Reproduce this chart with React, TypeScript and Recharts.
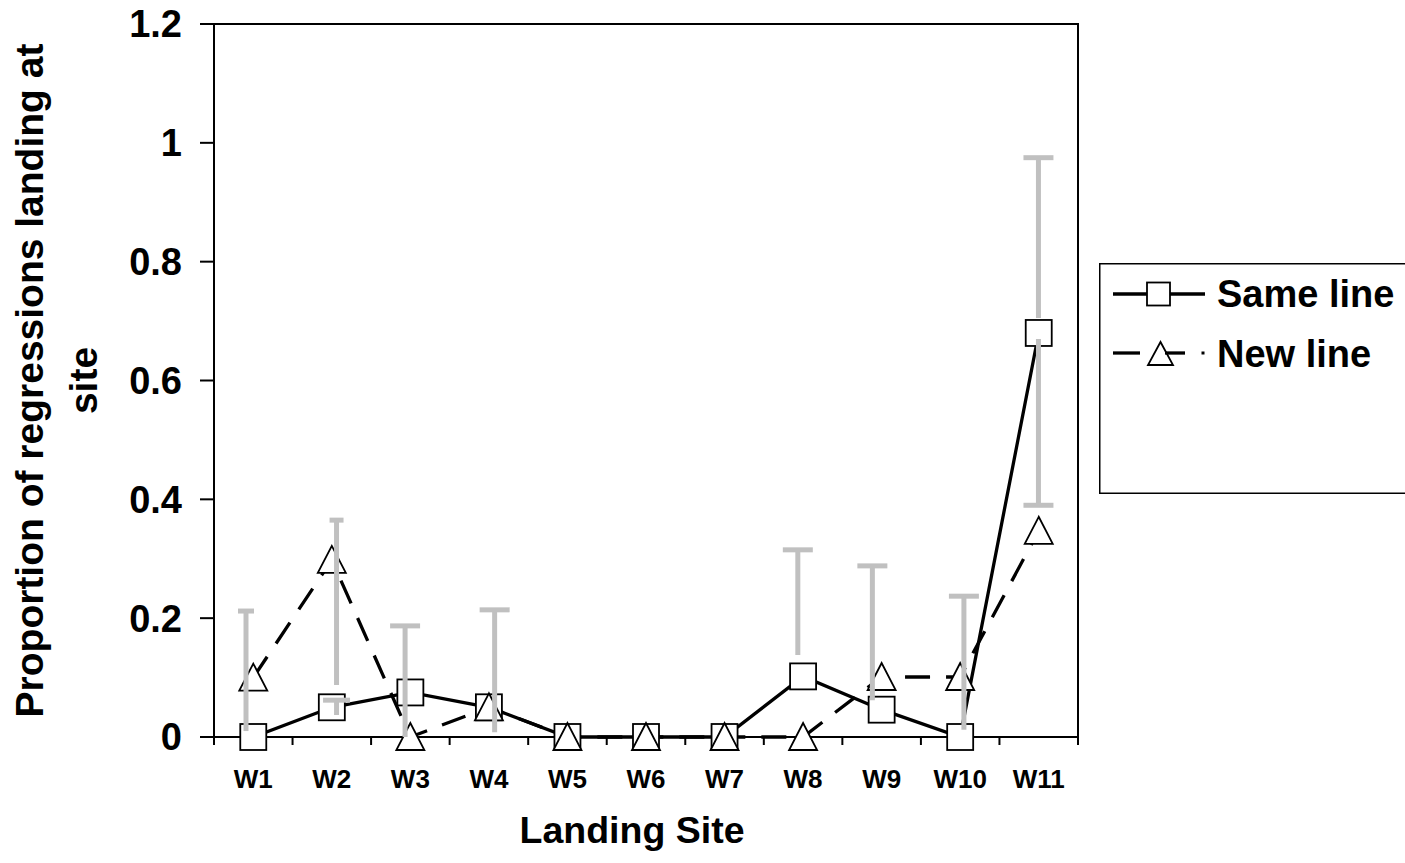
import React from 'react';
import { ComposedChart, Line, Bar, XAxis, YAxis, Legend, ReferenceLine } from 'recharts';

// ---------- data ----------
const sites = ['W1', 'W2', 'W3', 'W4', 'W5', 'W6', 'W7', 'W8', 'W9', 'W10', 'W11'];
const sameLine = [0, 0.05, 0.075, 0.05, 0, 0, 0, 0.102, 0.046, 0, 0.68];
const newLine = [0.1, 0.298, 0, 0.05, 0, 0, 0, 0, 0.101, 0.101, 0.347];
// gray error bars (main segment)
const errLow = [0.01, 0.0875, 0, 0.008, null, null, null, 0.138, 0.062, 0.012, 0.705];
const errHigh = [0.212, 0.365, 0.187, 0.214, null, null, null, 0.315, 0.288, 0.237, 0.975];
// gray error bars (secondary segment)
const err2Low = [null, 0.037, null, null, null, null, null, null, null, null, 0.39];
const err2High = [null, 0.062, null, null, null, null, null, null, null, null, 0.67];
const yTicks = [0, 0.2, 0.4, 0.6, 0.8, 1, 1.2];

// ---------- styles ----------
const errOffsetPx = [-7, 5, -5, 6, 0, 0, 0, -5, -9, 4, 0];
const errCapWidth = [16, 14, 30, 30, 30, 30, 30, 30, 30, 30, 30];
const err2CapWidth = [30, 27, 30, 30, 30, 30, 30, 30, 30, 30, 30];
const err2CapSide = ['top', 'top', 'top', 'top', 'top', 'top', 'top', 'top', 'top', 'top', 'bottom'];
const GRAY = '#C0C0C0';
const FONT = '"Liberation Sans", Arial, Helvetica, sans-serif';
const W = 1405;
const H = 863;
const MARGIN = { top: 24, right: 327, bottom: 0, left: 0 };
const PLOT_H = 713;

const rows = sites.map((s, i) => ({
  site: s,
  same: sameLine[i],
  newL: newLine[i],
  err: errLow[i] == null ? null : [errLow[i], errHigh[i]],
  err2: err2Low[i] == null ? null : [err2Low[i], err2High[i]],
}));

const makeErrShape = (capWidths: number[], capSide: (i: number) => string) => (props: any) => {
  const { x, y, width, height, payload } = props;
  if (x == null || y == null || !payload) return <g />;
  const i = sites.indexOf(payload.site);
  const cx = x + width / 2 + (errOffsetPx[i] || 0);
  const top = Math.min(y, y + height);
  const bottom = Math.max(y, y + height);
  const cw = capWidths[i];
  const side = capSide(i);
  const capY = side === 'top' ? top : bottom;
  return (
    <g>
      <line x1={cx} x2={cx} y1={top} y2={bottom} stroke={GRAY} strokeWidth={5} />
      <line x1={cx - cw / 2} x2={cx + cw / 2} y1={capY} y2={capY} stroke={GRAY} strokeWidth={5} />
    </g>
  );
};

const EmptyShape = () => <g />;

const SquareDot = (props: any) => {
  const { cx, cy, index } = props;
  if (cx == null || cy == null) return <g key={`sq-${index}`} />;
  return (
    <rect
      key={`sq-${index}`}
      x={cx - 13}
      y={cy - 13}
      width={26}
      height={26}
      fill="#fff"
      stroke="#000"
      strokeWidth={1.8}
      strokeDasharray="none"
    />
  );
};

const TriangleDot = (props: any) => {
  const { cx, cy, index } = props;
  if (cx == null || cy == null) return <g key={`tr-${index}`} />;
  return (
    <polygon
      key={`tr-${index}`}
      points={`${cx},${cy - 14} ${cx - 14},${cy + 13} ${cx + 14},${cy + 13}`}
      fill="#fff"
      stroke="#000"
      strokeWidth={1.8}
      strokeDasharray="none"
    />
  );
};

const XTick = (props: any) => {
  const { x, y, payload, index } = props;
  const half = payload && payload.offset ? payload.offset : 864 / 11 / 2;
  const last = index === sites.length - 1;
  return (
    <g>
      <line x1={x - half} x2={x - half} y1={y} y2={y + 8} stroke="#000" strokeWidth={2} />
      {last ? (
        <line x1={x + half} x2={x + half} y1={y - PLOT_H - 1} y2={y + 8} stroke="#000" strokeWidth={2} />
      ) : null}
      <text x={x} y={y + 51} textAnchor="middle" fontFamily={FONT} fontWeight="bold" fontSize={26} fill="#000">
        {payload.value}
      </text>
    </g>
  );
};

const YTitle = (props: any) => {
  const vb = props.viewBox || { x: 0, y: 24, width: 214, height: 713 };
  const cy = vb.y + vb.height / 2;
  const x1 = vb.x + 43;
  const x2 = vb.x + 97;
  return (
    <g>
      <text x={x1} y={cy} transform={`rotate(-90, ${x1}, ${cy})`} textAnchor="middle" fontFamily={FONT} fontWeight="bold" fontSize={39} fill="#000">
        Proportion of regressions landing at
      </text>
      <text x={x2} y={cy} transform={`rotate(-90, ${x2}, ${cy})`} textAnchor="middle" fontFamily={FONT} fontWeight="bold" fontSize={39} fill="#000">
        site
      </text>
    </g>
  );
};

const XTitle = (props: any) => {
  const vb = props.viewBox || { x: 214, y: 737, width: 864, height: 126 };
  const cx = vb.x + vb.width / 2 - 14;
  return (
    <text x={cx} y={vb.y + 106} textAnchor="middle" fontFamily={FONT} fontWeight="bold" fontSize={37.5} fill="#000">
      Landing Site
    </text>
  );
};

const LegendBox = () => (
  <svg width={306} height={231} style={{ display: 'block' }}>
    <path d="M306 0.75 H0.75 V230.25 H306" fill="none" stroke="#000" strokeWidth={1.5} />
    <line x1={14} x2={106} y1={31} y2={31} stroke="#000" strokeWidth={3.3} />
    <rect x={48} y={19.5} width={23} height={23} fill="#fff" stroke="#000" strokeWidth={1.8} />
    <text x={118} y={44} fontFamily={FONT} fontWeight="bold" fontSize={38} fill="#000">
      Same line
    </text>
    <line x1={14} x2={41} y1={90} y2={90} stroke="#000" strokeWidth={3.3} />
    <polygon points="61.5,79 49,102 74,102" fill="#fff" stroke="#000" strokeWidth={1.8} />
    <line x1={66} x2={86} y1={90} y2={90} stroke="#000" strokeWidth={3.3} />
    <rect x={102.5} y={88.5} width={3} height={3} fill="#000" />
    <text x={118} y={104} fontFamily={FONT} fontWeight="bold" fontSize={38} fill="#000">
      New line
    </text>
  </svg>
);

export default function App() {
  return (
    <div style={{ position: 'absolute', left: 0, top: 0, width: W, height: H, background: '#fff' }}>
      {/* main chart: axes, lines, markers, legend */}
      <div style={{ position: 'absolute', left: 0, top: 0 }}>
        <ComposedChart width={W} height={H} data={rows} margin={MARGIN} barGap={0} barCategoryGap={0}>
          <XAxis
            dataKey="site"
            height={126}
            interval={0}
            tickSize={0}
            tickMargin={0}
            tickLine={false}
            axisLine={{ stroke: '#000', strokeWidth: 2 }}
            tick={<XTick />}
            label={{ content: (p: any) => <XTitle {...p} /> }}
          />
          <YAxis
            width={214}
            domain={[0, 1.2]}
            ticks={yTicks}
            interval={0}
            tickSize={14}
            tickMargin={18}
            tickLine={{ stroke: '#000', strokeWidth: 2 }}
            axisLine={{ stroke: '#000', strokeWidth: 2 }}
            tick={{ fill: '#000', fontFamily: FONT, fontWeight: 'bold', fontSize: 38 }}
            label={{ content: (p: any) => <YTitle {...p} /> }}
          />
          <ReferenceLine y={1.2} stroke="#000" strokeWidth={2} />
          {/* keeps the same band layout as the overlay; draws nothing */}
          <Bar dataKey="err" barSize={30} shape={EmptyShape} isAnimationActive={false} legendType="none" />
          <Line
            dataKey="same"
            name="Same line"
            stroke="#000"
            strokeWidth={3.3}
            dot={SquareDot}
            activeDot={false}
            isAnimationActive={false}
          />
          <Line
            dataKey="newL"
            name="New line"
            stroke="#000"
            strokeWidth={3.3}
            strokeDasharray="25 16"
            dot={TriangleDot}
            activeDot={false}
            isAnimationActive={false}
          />
          <Legend
            layout="horizontal"
            verticalAlign="middle"
            align="center"
            content={() => <LegendBox />}
            wrapperStyle={{ left: 1099, top: 263, width: 306, height: 231, margin: 0, padding: 0 }}
          />
        </ComposedChart>
      </div>
      {/* overlay chart: gray error bars drawn on top, same plot area and scales */}
      <div style={{ position: 'absolute', left: 0, top: 0, pointerEvents: 'none' }}>
        <ComposedChart
          width={W}
          height={H}
          data={rows}
          margin={{ top: 24, right: 327, bottom: 126, left: 214 }}
          barGap={0}
          barCategoryGap={0}
        >
          <XAxis dataKey="site" hide />
          <XAxis xAxisId="b" dataKey="site" hide />
          <YAxis hide domain={[0, 1.2]} ticks={yTicks} />
          <Bar
            dataKey="err"
            barSize={30}
            shape={makeErrShape(errCapWidth, () => 'top')}
            isAnimationActive={false}
          />
          <Bar
            dataKey="err2"
            xAxisId="b"
            barSize={30}
            shape={makeErrShape(err2CapWidth, (i) => err2CapSide[i])}
            isAnimationActive={false}
          />
        </ComposedChart>
      </div>
    </div>
  );
}
